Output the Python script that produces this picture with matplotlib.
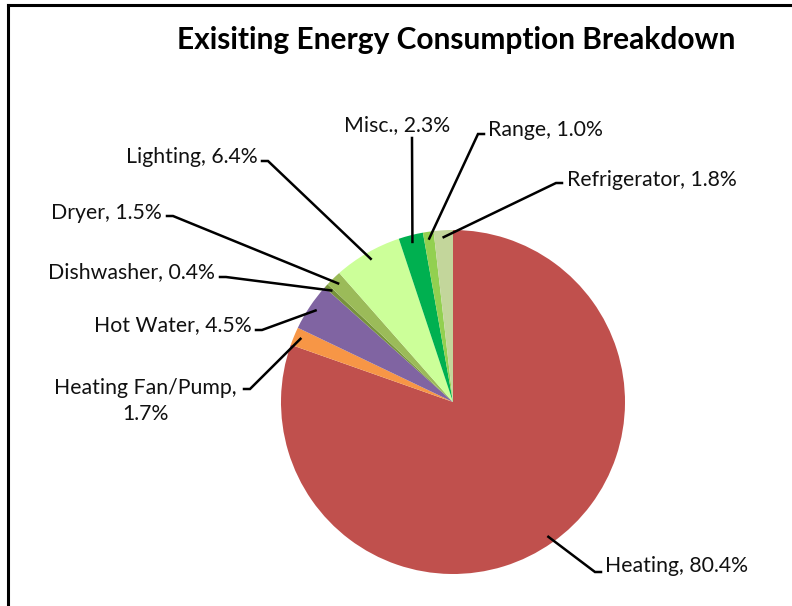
import numpy as np
import matplotlib.pyplot as plt

plt.rcParams['font.family'] = ['Lato', 'DejaVu Sans']

# energy use by end use, percent of total
categories = ['Heating', 'Heating Fan/Pump', 'Hot Water', 'Dishwasher', 'Dryer',
              'Lighting', 'Misc.', 'Range', 'Refrigerator']
shares = [80.4, 1.7, 4.5, 0.4, 1.5, 6.4, 2.3, 1.0, 1.8]
colors = ['#C0504D', '#F79646', '#8064A2', '#77933C', '#9BBB59',
          '#CCFF99', '#00B050', '#92D050', '#C3D69B']

W, H = 792, 606
fig = plt.figure(figsize=(W / 100, H / 100), dpi=100)
ax = fig.add_axes([0, 0, 1, 1])

cx, cy, r = 453, H - 402, 172
wedges, _ = ax.pie(shares, colors=colors, startangle=90, counterclock=False,
                   center=(cx, cy), radius=r, wedgeprops=dict(linewidth=0))
ax.set_xlim(0, W)
ax.set_ylim(0, H)
ax.set_aspect('equal')
ax.axis('off')

# label placement in pixels (from top-left): text x, text y, alignment,
# leader start, length of the small horizontal tick at the label
label_pos = {
    'Heating':          (605, 566, 'left',   (601, 572), -6),
    'Heating Fan/Pump': (145, 401, 'center', (244, 389), 6),
    'Hot Water':        (252, 325, 'right',  (256, 330), 6),
    'Dishwasher':       (215, 272, 'right',  (220, 277), 6),
    'Dryer':            (162, 213, 'right',  (167, 216), 6),
    'Lighting':         (258, 157, 'right',  (262, 161), 6),
    'Misc.':            (397, 125, 'center', (412, 138), 0),
    'Range':            (488, 130, 'left',   (484, 134), -6),
    'Refrigerator':     (567, 180, 'left',   (562, 183), -6),
}

for w, name, val in zip(wedges, categories, shares):
    tx, ty, ha, (lx, ly), tick = label_pos[name]
    if name == 'Heating Fan/Pump':
        txt = f'{name},\n{val:.1f}%'
    else:
        txt = f'{name}, {val:.1f}%'
    ax.text(tx, H - ty, txt, ha=ha, va='center', fontsize=15.3,
            multialignment='center', linespacing=1.4, color='#111111')
    mid = np.deg2rad((w.theta1 + w.theta2) / 2)
    ex = cx + 0.96 * r * np.cos(mid)
    ey = cy + 0.96 * r * np.sin(mid)
    # short horizontal tick at the label, then straight to the slice
    ax.plot([lx, lx + tick, ex], [H - ly, H - ly, ey], color='black', lw=1.8,
            solid_joinstyle='miter')

ax.text(456, H - 40, 'Exisiting Energy Consumption Breakdown', ha='center',
        va='center', fontsize=21.5, fontweight='bold')

# chart border (top and left edges)
ax.plot([8, W], [H - 5, H - 5], color='black', lw=2.2, clip_on=False)
ax.plot([8, 8], [H - 5, 0], color='black', lw=2.2, clip_on=False)

fig.savefig('out.png', dpi=100)
